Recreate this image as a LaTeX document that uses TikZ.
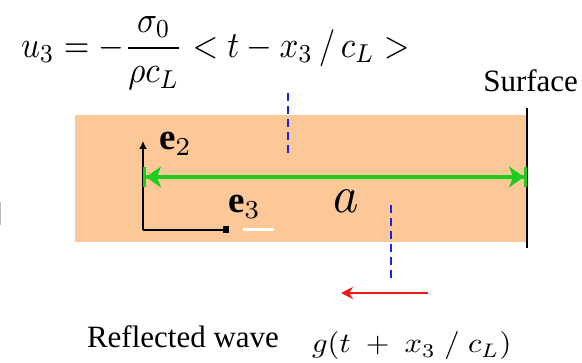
\documentclass[tikz,border=0pt]{standalone}
\usepackage{fontspec}
\setmainfont{Liberation Serif}
\usetikzlibrary{arrows.meta}
\definecolor{slab}{RGB}{253,200,152}
\definecolor{dimgreen}{RGB}{28,205,28}
\definecolor{waveblue}{RGB}{25,35,235}
\definecolor{wavered}{RGB}{240,25,25}
\tikzset{
  bluedash/.style={draw=waveblue, line width=2.6pt, dash pattern=on 8pt off 5pt},
  axisline/.style={draw=black, line width=2pt},
  lbl/.style={inner sep=0pt, outer sep=0pt},
}
\begin{document}
\begin{tikzpicture}[x=1pt,y=-1pt]
\useasboundingbox (0,0) rectangle (582,363);
% slab
\fill[slab] (75,115) rectangle (527,242);
% stray fragment at left edge
\coordinate (fr1) at (0.6,202);
\coordinate (fr2) at (0.6,225);
\draw[gray!55, line width=1.2pt] (fr1) -- (fr2);
% surface line
\coordinate (sT) at (527,108);
\coordinate (sB) at (527,248);
\draw[black, line width=1.6pt] (sT) -- (sB);
% axes
\coordinate (o) at (143,230);
\coordinate (e2t) at (143,141);
\coordinate (e3t) at (229,230);
\draw[axisline, -{Latex[length=8pt,width=8pt]}] (o) -- (e2t);
\draw[axisline, -{Square[length=6pt,width=7pt]}] (o) -- (e3t);
\fill[white] (243,228) rectangle (274,231);
% dimension arrow a
\coordinate (gl) at (143,177);
\coordinate (gr) at (527,177);
\draw[dimgreen, line width=3.5pt,
  {Bar[width=20pt,line width=3pt]Stealth[length=15pt,width=21pt,inset=4pt]}-{Stealth[length=15pt,width=21pt,inset=4pt]Bar[width=20pt,line width=3pt]}]
  (gl) -- (gr);
% wavefronts
\coordinate (b1t) at (288,93);
\coordinate (b1b) at (288,158);
\draw[bluedash] (b1t) -- (b1b);
\coordinate (b2t) at (391,205);
\coordinate (b2b) at (391,279);
\draw[bluedash] (b2t) -- (b2b);
% reflected wave arrow
\coordinate (r1) at (428,293);
\coordinate (r2) at (341,293);
\draw[wavered, line width=2.2pt, -{Stealth[length=12pt,width=12pt]}] (r1) -- (r2);
% labels
\node[lbl, anchor=west] (eq) at (21,53) {\scalebox{3.3}[3.7]{$\displaystyle u_3 = -\frac{\sigma_0}{\rho c_L} < t - x_3 \,/\, c_L >$}};
\node[lbl, anchor=base east] (surf) at (578,92) {\fontsize{31}{36}\selectfont Surface};
\node[lbl, anchor=base west] (e2) at (159,150) {\scalebox{3.7}{$\mathbf{e}_2$}};
\node[lbl, anchor=base west] (e3) at (228,213) {\scalebox{3.7}{$\mathbf{e}_3$}};
\node[lbl, anchor=base west] (a) at (333,213) {\scalebox{4.8}[5.2]{$a$}};
\node[lbl, anchor=base west] (refl) at (87,348) {\fontsize{31}{36}\selectfont Reflected wave};
\node[lbl, anchor=base west] (g) at (312,353) {\scalebox{3.05}[2.8]{$g(t \;+\; x_3 \;/\; c_L)$}};
\end{tikzpicture}
\end{document}
